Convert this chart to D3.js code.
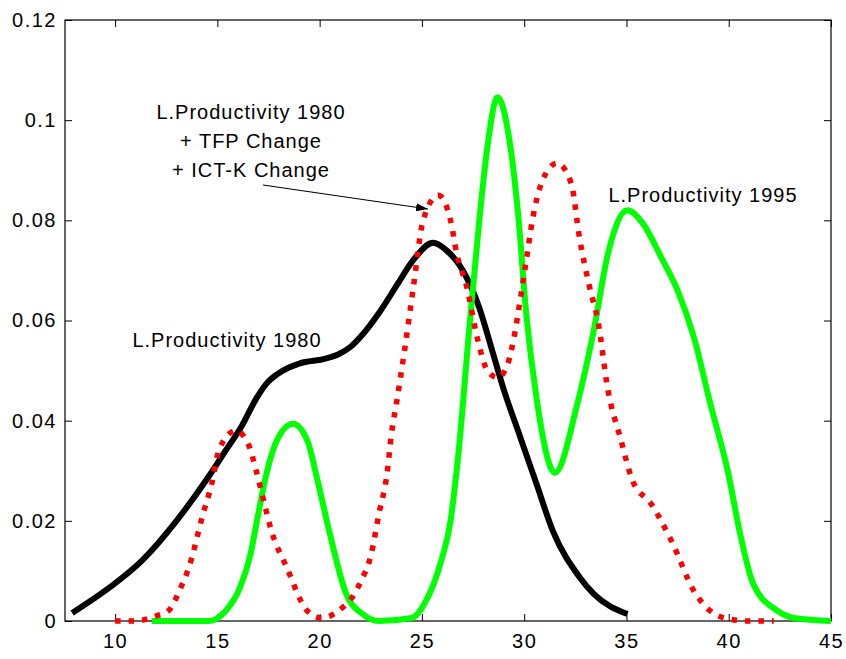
<!DOCTYPE html>
<html>
  <head>
    <meta charset="utf-8" />
    <title>Labour productivity densities</title>
    <style>
      body { margin: 0; background: #fff; }
      text { font-family: "Liberation Sans", Arial, sans-serif; fill: #000; }
    </style>
  </head>
  <body>
    <svg id="chart" width="846" height="659"></svg>
    <script src="https://d3js.org/d3.v7.min.js"></script>
    <script>
      // L.Productivity 1980 (black)
      const blackX = [7.9, 9.7, 11.3, 13.0, 14.6, 15.4, 16.2, 16.9, 17.4, 17.9, 18.5, 19.0, 20.3, 20.9, 21.5, 22.1, 22.95, 23.8, 24.6, 25.55, 26.2, 27.0, 27.8, 28.4, 28.97, 29.8, 30.6, 31.4, 32.7, 33.4, 35.05];
      const blackY = [0.0016, 0.0066, 0.012, 0.020, 0.029, 0.034, 0.039, 0.0444, 0.0474, 0.0492, 0.0506, 0.0514, 0.0524, 0.0532, 0.0547, 0.0572, 0.0618, 0.0672, 0.0722, 0.0755, 0.074, 0.070, 0.0626, 0.0545, 0.0466, 0.0368, 0.0274, 0.018, 0.0088, 0.0054, 0.0014];

      // L.Productivity 1980 + TFP Change + ICT-K Change (red dotted)
      const redX = [10, 11, 12, 12.6, 13.2, 13.6, 14.3, 14.7, 15.1, 15.9, 16.5, 16.9, 17.3, 17.6, 18.4, 19.4, 20.1, 20.7, 21.2, 21.7, 22.0, 22.5, 22.9, 23.3, 23.5, 23.8, 24.17, 24.58, 25.06, 25.8, 26.4, 26.7, 27.2, 27.7, 28.2, 28.7, 29.2, 29.5, 29.8, 30.1, 30.4, 30.9, 31.6, 32.3, 32.7, 33.2, 33.6, 34.1, 34.7, 35.3, 36.2, 37.2, 38.3, 39.1, 39.8, 41.0, 42.2];
      const redY = [0, 0, 0.001, 0.002, 0.0066, 0.0106, 0.0214, 0.027, 0.0344, 0.038, 0.0354, 0.030, 0.0234, 0.0186, 0.0106, 0.002, 0.0006, 0.0014, 0.003, 0.0054, 0.0078, 0.013, 0.0214, 0.0296, 0.037, 0.0446, 0.0546, 0.0666, 0.080, 0.085, 0.080, 0.0734, 0.0666, 0.0566, 0.050, 0.0486, 0.0514, 0.0566, 0.064, 0.072, 0.080, 0.088, 0.0914, 0.0874, 0.0766, 0.0666, 0.060, 0.046, 0.0366, 0.028, 0.0234, 0.016, 0.006, 0.002, 0.0006, 0, 0];

      // L.Productivity 1995 (green)
      const greenX = [11.8, 13.0, 14.6, 15.4, 16.1, 16.6, 17.0, 17.4, 17.9, 18.7, 19.4, 19.9, 20.5, 21.3, 22.1, 22.9, 24.5, 25.2, 25.9, 26.4, 26.75, 27.35, 27.84, 28.2, 28.7, 29.2, 29.7, 30.1, 30.6, 31.5, 32.6, 33.4, 34.1, 35.05, 35.8, 36.7, 37.5, 38.3, 39.1, 39.95, 40.6, 41.2, 42.4, 43.2, 45];
      const greenY = [0, 0, 0, 0.002, 0.0066, 0.013, 0.0214, 0.0294, 0.036, 0.0394, 0.036, 0.028, 0.0174, 0.0054, 0.0014, 0, 0.0006, 0.004, 0.0114, 0.020, 0.032, 0.060, 0.0814, 0.0946, 0.1046, 0.098, 0.0814, 0.0614, 0.0446, 0.0296, 0.0434, 0.058, 0.0734, 0.082, 0.0794, 0.0726, 0.066, 0.0566, 0.0434, 0.030, 0.0166, 0.0074, 0.002, 0.0006, 0];

      const xTicks = [10, 15, 20, 25, 30, 35, 40, 45];
      const yTicks = [0, 0.02, 0.04, 0.06, 0.08, 0.1, 0.12];

      const margin = { top: 20, right: 15, bottom: 38, left: 65 },
        width = 846 - margin.left - margin.right,
        height = 659 - margin.top - margin.bottom;

      const svg = d3.select("#chart");
      const chart = svg
        .append("g")
        .attr("transform", "translate(" + margin.left + "," + margin.top + ")");

      const xScale = d3.scaleLinear().domain([7.55, 45]).range([0, width]);
      const yScale = d3.scaleLinear().domain([0, 0.12]).range([height, 0]);

      const fmt = (d) => (d === 0 ? "0" : String(+d.toFixed(2)));

      // axes with inside ticks, mirrored on top and right
      chart
        .append("g")
        .attr("transform", "translate(0," + height + ")")
        .call(d3.axisBottom(xScale).tickValues(xTicks).tickSizeInner(-7).tickSizeOuter(0).tickPadding(13).tickFormat(fmt));
      chart
        .append("g")
        .call(d3.axisTop(xScale).tickValues(xTicks).tickSizeInner(-7).tickSizeOuter(0).tickFormat(""));
      chart
        .append("g")
        .call(d3.axisLeft(yScale).tickValues(yTicks).tickSizeInner(-7).tickSizeOuter(0).tickPadding(8).tickFormat(fmt));
      chart
        .append("g")
        .attr("transform", "translate(" + width + ",0)")
        .call(d3.axisRight(yScale).tickValues(yTicks).tickSizeInner(-7).tickSizeOuter(0).tickFormat(""));

      chart.selectAll(".domain").remove();
      chart.selectAll(".tick line").attr("stroke", "#000");
      chart
        .selectAll(".tick text")
        .style("font-size", "20px")
        .style("letter-spacing", "1.5px")
        .attr("fill", "#000");

      chart
        .append("rect")
        .attr("width", width)
        .attr("height", height)
        .attr("fill", "none")
        .attr("stroke", "#000")
        .attr("stroke-width", 1.2);

      const line = d3
        .line()
        .x((d) => xScale(d[0]))
        .y((d) => yScale(d[1]))
        .curve(d3.curveMonotoneX);

      const series = [
        { xs: blackX, ys: blackY, color: "#000000", dash: null, w: 6 },
        { xs: greenX, ys: greenY, color: "#00ff00", dash: null, w: 6 },
        { xs: redX, ys: redY, color: "#ff0000", dash: "5.5,8", w: 5.5 },
      ];

      series.forEach((s) => {
        chart
          .append("path")
          .datum(s.xs.map((x, i) => [x, s.ys[i]]))
          .attr("fill", "none")
          .attr("stroke", s.color)
          .attr("stroke-width", s.w)
          .attr("stroke-dasharray", s.dash)
          .attr("stroke-linejoin", "round")
          .attr("d", line);
      });

      // labels
      const labelStyle = (sel) =>
        sel.style("font-size", "20px").style("letter-spacing", "1px").attr("text-anchor", "middle");

      svg.append("text").attr("x", 227).attr("y", 347).text("L.Productivity 1980").call(labelStyle);
      svg.append("text").attr("x", 703).attr("y", 202).text("L.Productivity 1995").call(labelStyle);

      const annot = ["L.Productivity 1980", "+ TFP Change", "+ ICT-K Change"];
      svg
        .append("g")
        .selectAll("text")
        .data(annot)
        .join("text")
        .attr("x", 251)
        .attr("y", (d, i) => 119 + i * 29)
        .text((d) => d)
        .call(labelStyle);

      // arrow
      svg
        .append("defs")
        .append("marker")
        .attr("id", "arrow")
        .attr("viewBox", "0 0 12 8")
        .attr("refX", 12)
        .attr("refY", 4)
        .attr("markerWidth", 12)
        .attr("markerHeight", 8)
        .attr("markerUnits", "userSpaceOnUse")
        .attr("orient", "auto")
        .append("path")
        .attr("d", "M0,0 L12,4 L0,8 Z")
        .attr("fill", "#000");

      svg
        .append("line")
        .attr("x1", 263)
        .attr("y1", 185)
        .attr("x2", 428)
        .attr("y2", 209)
        .attr("stroke", "#000")
        .attr("stroke-width", 1.2)
        .attr("marker-end", "url(#arrow)");
    </script>
  </body>
</html>
